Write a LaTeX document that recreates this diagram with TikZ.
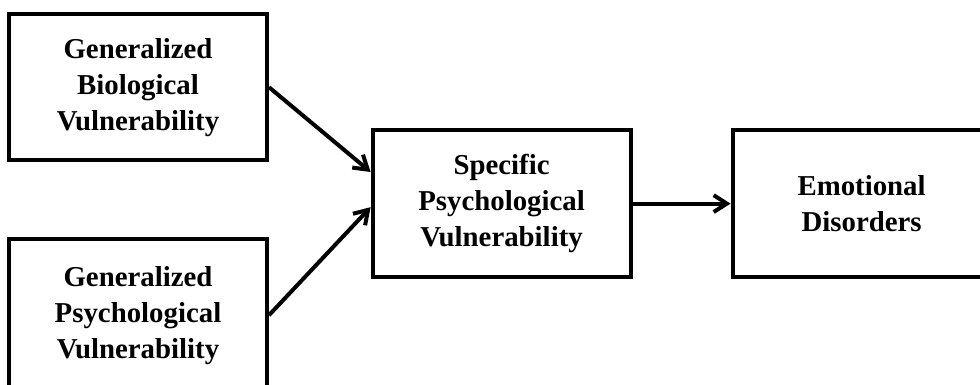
\documentclass[tikz,border=0pt]{standalone}
\usepackage{fontspec}
\setmainfont{Liberation Serif}
\usetikzlibrary{arrows.meta, positioning}

\begin{document}
\begin{tikzpicture}[
    node distance=1.86cm and 2.45cm,
    mybox/.style={rectangle, draw, line width=0.1cm, align=center,
        minimum width=6.45cm, minimum height=3.66cm,
        font=\fontsize{20.5}{25.6}\selectfont\bfseries},
    myarrow/.style={-{Straight Barb[length=0.33cm, width=0.42cm]}, line width=0.1cm}
]
\useasboundingbox (0,0) rectangle (24.5,-9.625);

% Nodes
\node[mybox] (GenBio) at (3.45,-2.18) {Generalized\\Biological\\Vulnerability};
\node[mybox, below=of GenBio, minimum height=3.82cm] (GenPsy) {Generalized\\Psychological\\Vulnerability};
\node[mybox] (SpecPsy) at (12.54,-5.09) {Specific\\Psychological\\Vulnerability};
\node[mybox, right=of SpecPsy] (Emo) {Emotional\\Disorders};

% Paths
\draw[myarrow] (GenBio.east) -- ([yshift=0.79cm]SpecPsy.west);
\draw[myarrow] (GenPsy.east) -- ([yshift=-0.09cm]SpecPsy.west);
\draw[myarrow] (SpecPsy) -- (Emo);

\end{tikzpicture}
\end{document}
